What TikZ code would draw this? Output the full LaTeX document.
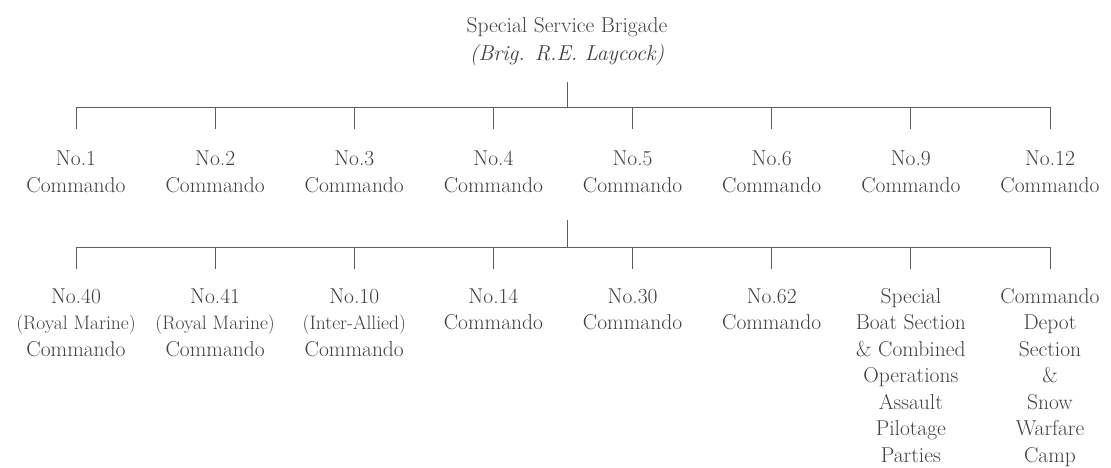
\documentclass[tikz,border=0pt]{standalone}
\usepackage{fontspec}
\setmainfont{Latin Modern Roman}
\definecolor{ink}{HTML}{404040}
\definecolor{rulegray}{HTML}{5E5E5E}
\tikzset{
  unit/.style={anchor=base, align=center, inner sep=0pt, text=ink, font=\fontsize{21.5}{26.5}\selectfont},
  titlebox/.style={anchor=base, align=center, inner sep=0pt, text=ink, font=\fontsize{21.5}{28}\selectfont},
  conn/.style={draw=rulegray, line width=0.9pt},
}
\newcommand{\subline}[1]{{\fontsize{19.5}{26.5}\selectfont #1}}
\begin{document}
\begin{tikzpicture}[x=1pt,y=-1pt]
\useasboundingbox (0,0) rectangle (1111,467);
% top (anchor base = last line baseline)
\node[titlebox] (ssb) at (567,60) {Special Service Brigade\\\textit{(Brig. R.E. Laycock)}};
% first row
\foreach \i/\n in {1/1,2/2,3/3,4/4,5/5,6/6,7/9,8/12}
  \node[unit] (a\i) at ({76+139.14*(\i-1)},192) {No.\n\\Commando};
\draw[conn] (ssb.south |- 0,82) -- (ssb.south |- 0,107);
\draw[conn] (a1 |- 0,107) -- (a8 |- 0,107);
\foreach \i in {1,...,8}
  \draw[conn] (a\i |- 0,107) -- (a\i |- 0,129);
% second row
\node[unit] (b1) at (76,356) {No.40\\\subline{(Royal Marine)}\\Commando};
\node[unit] (b2) at (215.14,356) {No.41\\\subline{(Royal Marine)}\\Commando};
\node[unit] (b3) at (354.28,356) {No.10\\\subline{(Inter-Allied)}\\Commando};
\node[unit] (b4) at (493.42,329.5) {No.14\\Commando};
\node[unit] (b5) at (632.56,329.5) {No.30\\Commando};
\node[unit] (b6) at (771.70,329.5) {No.62\\Commando};
\node[unit] (b7) at (910.84,462) {Special\\Boat Section\\\& Combined\\Operations\\Assault\\Pilotage\\Parties};
\node[unit] (b8) at (1050,462) {Commando\\Depot\\Section\\\&\\Snow\\Warfare\\Camp};
\coordinate (grp) at (567,220);
\draw[conn] (grp) -- (grp |- 0,247);
\draw[conn] (b1 |- 0,247) -- (b8 |- 0,247);
\foreach \i in {1,...,8}
  \draw[conn] (b\i |- 0,247) -- (b\i |- 0,269);
\end{tikzpicture}
\end{document}
